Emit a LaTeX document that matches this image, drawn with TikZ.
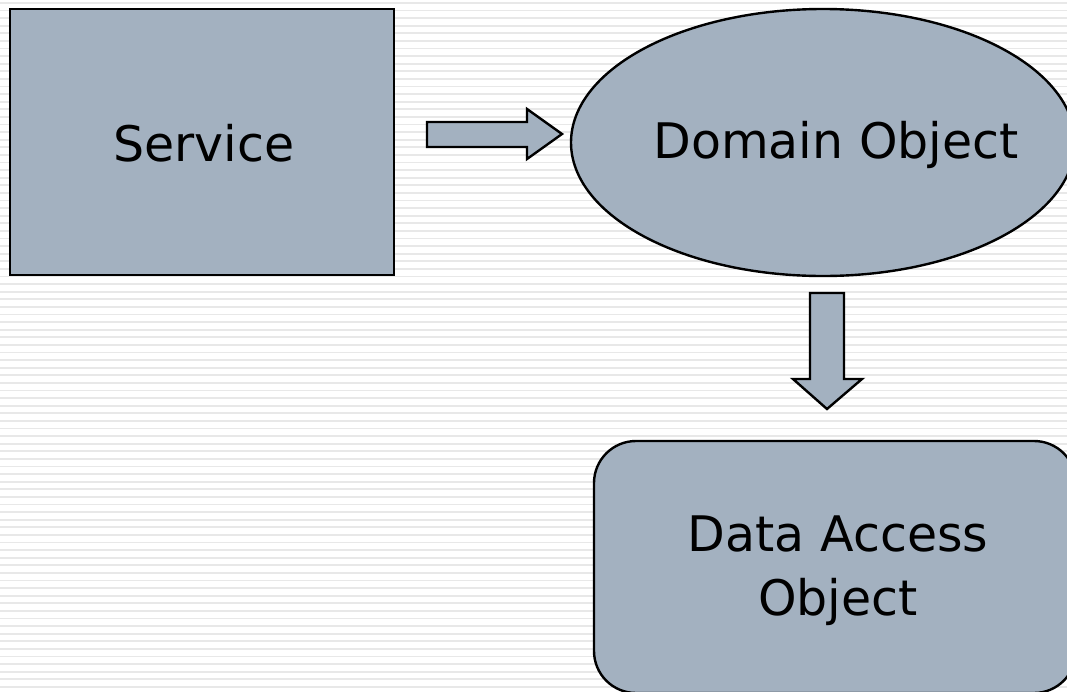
\documentclass[tikz,border=0pt]{standalone}
\usepackage{fontspec}
\setmainfont{DejaVu Sans}
\usetikzlibrary{shapes.geometric}
\definecolor{boxfill}{HTML}{A3B1C0}
\definecolor{stripe}{HTML}{E8E8E8}
\tikzset{
  shapebox/.style={draw=black, line width=2.4pt, fill=boxfill, inner sep=0pt},
  blockarrow/.style={draw=black, line width=2.4pt, fill=boxfill, line join=miter},
  lbl/.style={font=\fontsize{49}{64}\selectfont, align=center, inner sep=0pt}
}
\begin{document}
\begin{tikzpicture}[x=1pt,y=-1pt]
\useasboundingbox (0,0) rectangle (1067,691);
\clip (0,0) rectangle (1067,691);
\fill[white] (0,0) rectangle (1067,691);
\foreach \i in {0,...,91} {
  \fill[stripe] (0,{2+\i*7.6}) rectangle (1067,{3.8+\i*7.6});
}
% Service
\node[shapebox, rectangle, minimum width=384pt, minimum height=266pt] (svc) at (202,142) {};
\node[lbl] (svct) at (204,143) {Service};
% Domain object
\node[shapebox, ellipse, minimum width=504pt, minimum height=267pt] (dom) at (823,142.5) {};
\node[lbl] (domt) at (836,145) {Domain Object};
% DAO
\node[shapebox, rectangle, rounded corners=42pt, minimum width=482pt, minimum height=252pt] (dao) at (835,567) {};
\node[lbl] (daot) at (838,571) {Data Access\\Object};
% right arrow
\coordinate (ra) at (427,122);
\draw[blockarrow] (ra) -- (527,122) -- (527,109) -- (562,134) -- (527,159) -- (527,147) -- (427,147) -- cycle;
% down arrow
\coordinate (da) at (810,293);
\draw[blockarrow] (da) -- (844,293) -- (844,379) -- (862,379) -- (827,409) -- (793,379) -- (810,379) -- cycle;
\end{tikzpicture}
\end{document}
